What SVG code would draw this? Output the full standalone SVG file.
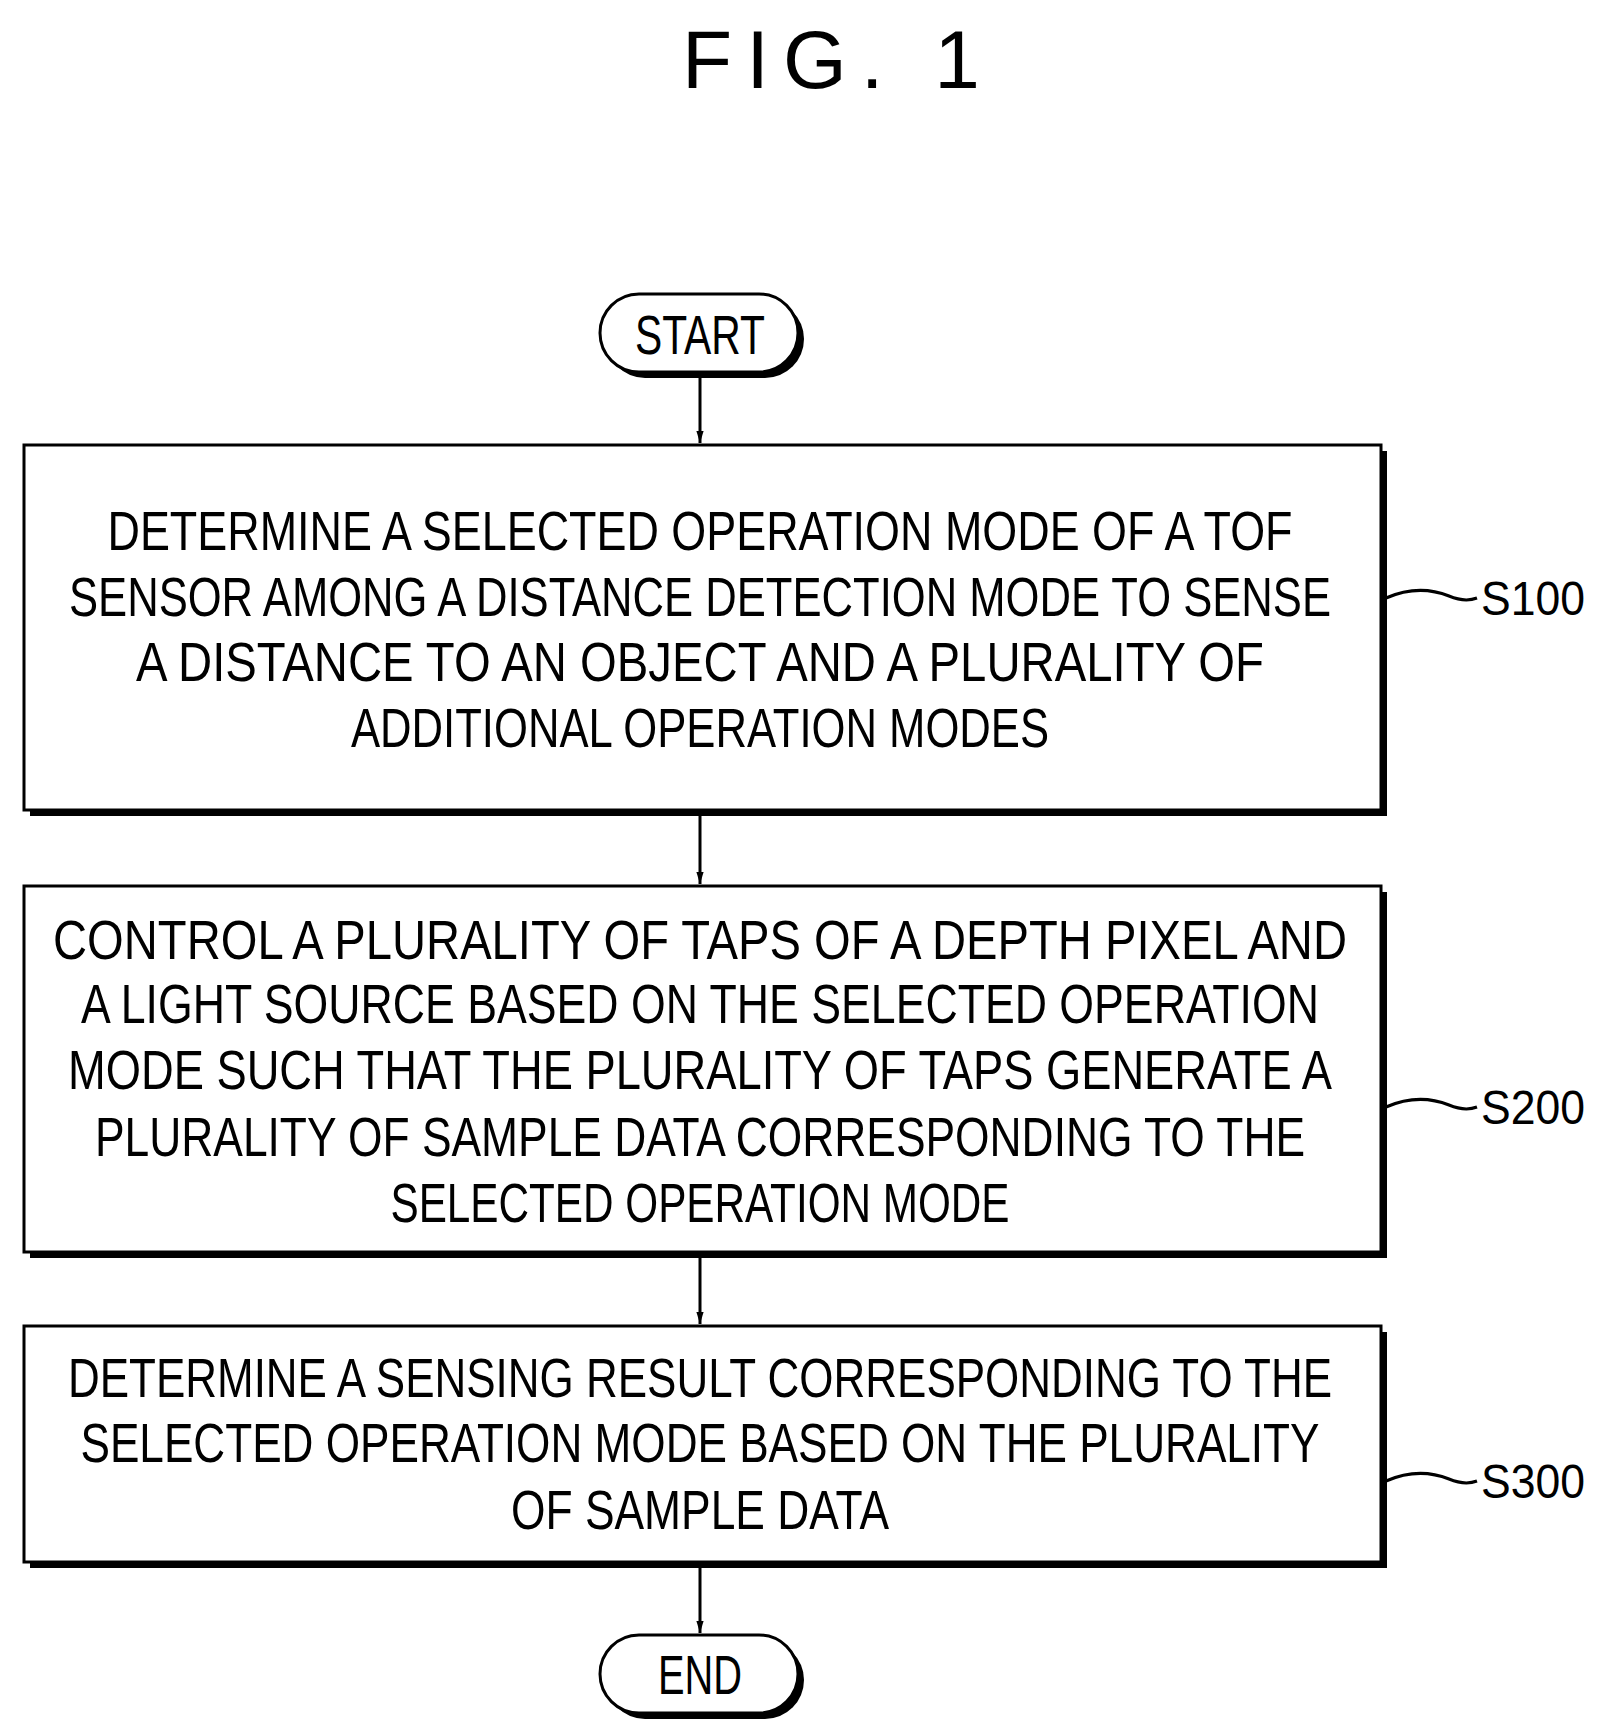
<svg xmlns="http://www.w3.org/2000/svg" width="1603" height="1731" viewBox="0 0 1603 1731">
<style>
text{font-family:"Liberation Sans",Arial,sans-serif;fill:#000}
.t{font-size:56px;text-anchor:middle}
.l{font-size:48px}
.box{fill:#fff;stroke:#000;stroke-width:3}
.sh{fill:#000}
.c{stroke:#000;stroke-width:3;fill:none}
</style>
<defs><marker id="ar" markerWidth="12" markerHeight="20" refX="20" refY="6" orient="auto" markerUnits="userSpaceOnUse" viewBox="0 0 20 12"><path d="M0,0 L20,6 L0,12 Z" fill="#000"/></marker></defs>
<text x="838" y="88" font-size="82" text-anchor="middle" letter-spacing="14">FIG. 1</text>
<g id="connectors">
<line class="c" x1="700" y1="376" x2="700" y2="443" marker-end="url(#ar)"/>
<line class="c" x1="700" y1="816" x2="700" y2="884" marker-end="url(#ar)"/>
<line class="c" x1="700" y1="1256" x2="700" y2="1324" marker-end="url(#ar)"/>
<line class="c" x1="700" y1="1566" x2="700" y2="1633" marker-end="url(#ar)"/>
<path class="c" d="M1386,598 C1409,588 1429,588 1449,596 C1461,601 1469,601 1477,598"/>
<path class="c" d="M1386,1107 C1409,1097 1429,1097 1449,1105 C1461,1110 1469,1110 1477,1107"/>
<path class="c" d="M1386,1481 C1409,1471 1429,1471 1449,1479 C1461,1484 1469,1484 1477,1481"/>
</g>
<g id="start"><rect x="606" y="300" width="198" height="78" rx="39" class="sh"/><rect x="600" y="294" width="198" height="78" rx="39" class="box"/><text class="t" x="700" y="354" textLength="130" lengthAdjust="spacingAndGlyphs">START</text></g>
<g id="s100"><rect x="30" y="451" width="1357" height="365" class="sh"/><rect x="24" y="445" width="1357" height="365" class="box"/>
<text class="t" x="700" y="550" textLength="1185" lengthAdjust="spacingAndGlyphs">DETERMINE A SELECTED OPERATION MODE OF A TOF</text>
<text class="t" x="700" y="616" textLength="1262" lengthAdjust="spacingAndGlyphs">SENSOR AMONG A DISTANCE DETECTION MODE TO SENSE</text>
<text class="t" x="700" y="681" textLength="1128" lengthAdjust="spacingAndGlyphs">A DISTANCE TO AN OBJECT AND A PLURALITY OF</text>
<text class="t" x="700" y="747" textLength="698" lengthAdjust="spacingAndGlyphs">ADDITIONAL OPERATION MODES</text>
<text class="l" x="1481" y="615" textLength="104" lengthAdjust="spacingAndGlyphs">S100</text></g>
<g id="s200"><rect x="30" y="892" width="1357" height="366" class="sh"/><rect x="24" y="886" width="1357" height="366" class="box"/>
<text class="t" x="700" y="959" textLength="1294" lengthAdjust="spacingAndGlyphs">CONTROL A PLURALITY OF TAPS OF A DEPTH PIXEL AND</text>
<text class="t" x="700" y="1023" textLength="1238" lengthAdjust="spacingAndGlyphs">A LIGHT SOURCE BASED ON THE SELECTED OPERATION</text>
<text class="t" x="700" y="1089" textLength="1264" lengthAdjust="spacingAndGlyphs">MODE SUCH THAT THE PLURALITY OF TAPS GENERATE A</text>
<text class="t" x="700" y="1156" textLength="1210" lengthAdjust="spacingAndGlyphs">PLURALITY OF SAMPLE DATA CORRESPONDING TO THE</text>
<text class="t" x="700" y="1222" textLength="619" lengthAdjust="spacingAndGlyphs">SELECTED OPERATION MODE</text>
<text class="l" x="1481" y="1124" textLength="104" lengthAdjust="spacingAndGlyphs">S200</text></g>
<g id="s300"><rect x="30" y="1332" width="1357" height="236" class="sh"/><rect x="24" y="1326" width="1357" height="236" class="box"/>
<text class="t" x="700" y="1397" textLength="1264" lengthAdjust="spacingAndGlyphs">DETERMINE A SENSING RESULT CORRESPONDING TO THE</text>
<text class="t" x="700" y="1462" textLength="1239" lengthAdjust="spacingAndGlyphs">SELECTED OPERATION MODE BASED ON THE PLURALITY</text>
<text class="t" x="700" y="1529" textLength="378" lengthAdjust="spacingAndGlyphs">OF SAMPLE DATA</text>
<text class="l" x="1481" y="1498" textLength="104" lengthAdjust="spacingAndGlyphs">S300</text></g>
<g id="end"><rect x="606" y="1641" width="198" height="78" rx="39" class="sh"/><rect x="600" y="1635" width="198" height="78" rx="39" class="box"/><text class="t" x="700" y="1694" textLength="84" lengthAdjust="spacingAndGlyphs">END</text></g>
</svg>
